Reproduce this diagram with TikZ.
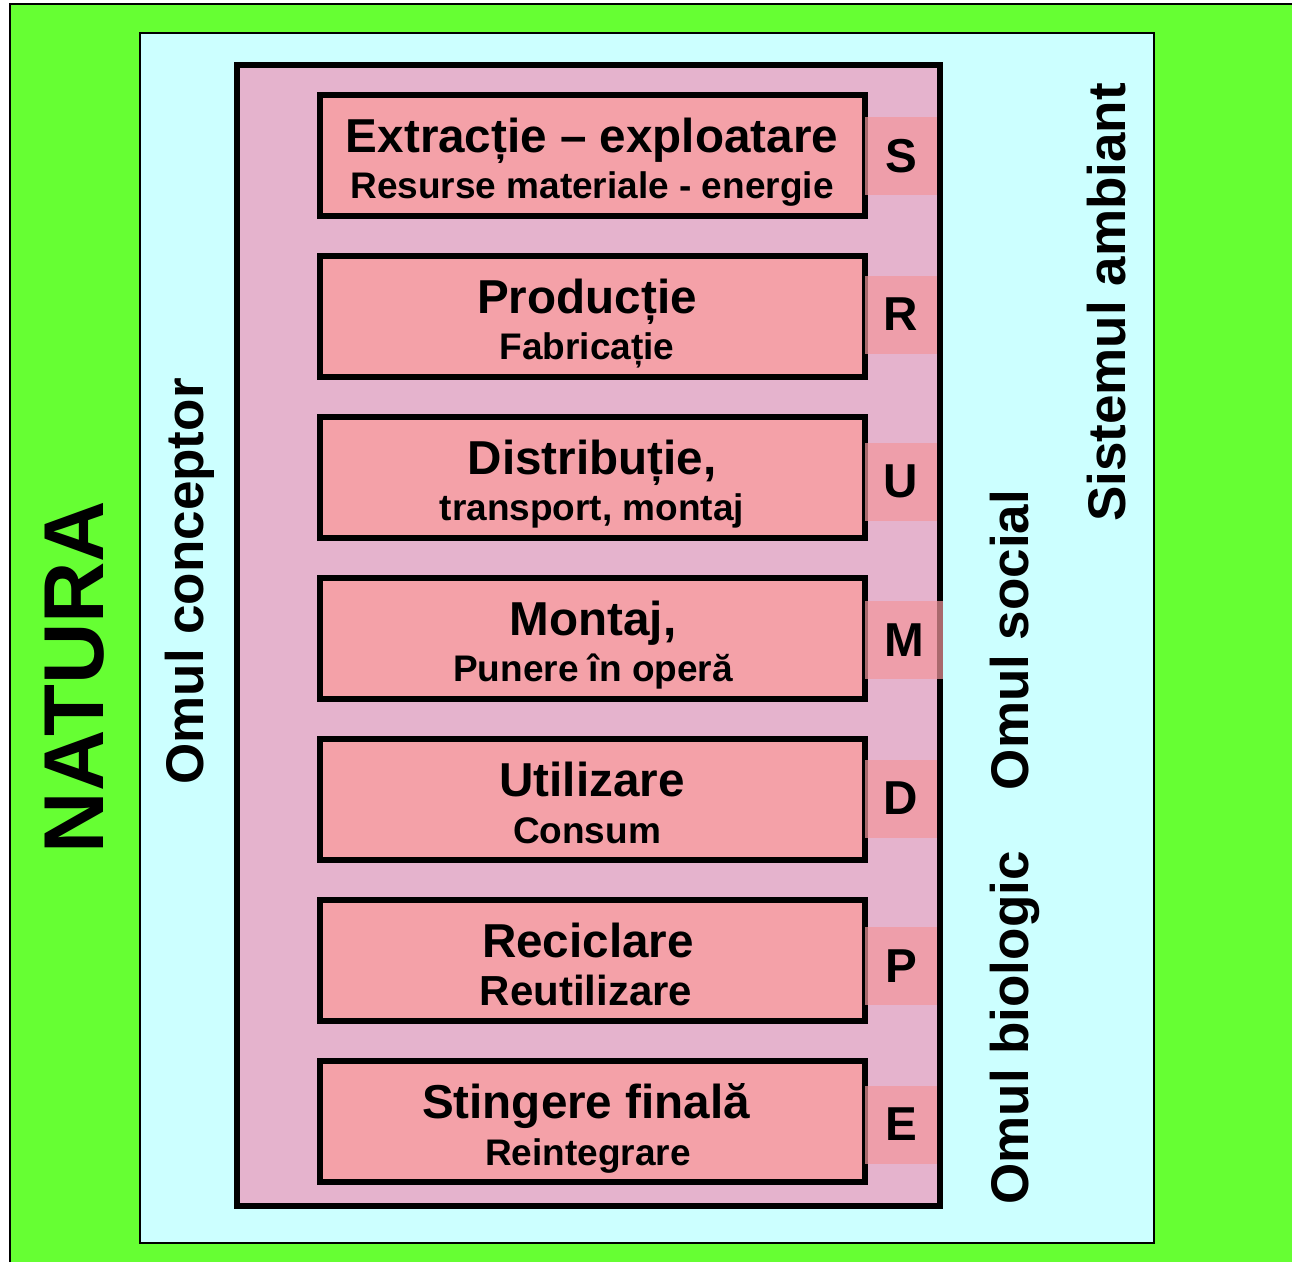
\documentclass[tikz,border=0pt]{standalone}
\usepackage{fontspec}
\setmainfont{Liberation Sans}
\definecolor{natgreen}{HTML}{66FF33}
\definecolor{ambcyan}{HTML}{CCFFFF}
\definecolor{contpink}{HTML}{E5B3CD}
\definecolor{boxpink}{HTML}{F4A1A8}
\definecolor{sqpink}{RGB}{242,150,156}
\tikzset{
  stagebox/.style={draw=black, line width=6pt, fill=boxpink, minimum width=545pt, minimum height=121pt, inner sep=0pt, outer sep=0pt, anchor=north west},
  lettersq/.style={fill=sqpink, fill opacity=0.7, text opacity=1, inner sep=0pt, outer sep=0pt, minimum height=78pt, font=\fontsize{47.6}{50}\selectfont\bfseries},
  ttl/.style={anchor=base, inner sep=0pt, font=\fontsize{47.6}{50}\selectfont\bfseries},
  sub/.style={anchor=base, inner sep=0pt, font=\fontsize{37}{40}\selectfont\bfseries},
  side/.style={rotate=90, anchor=base, inner sep=0pt, font=\fontsize{53}{56}\selectfont\bfseries}
}
\begin{document}
\begin{tikzpicture}[x=1pt, y=-1pt]
\path[use as bounding box, fill=white] (0,0) rectangle (1292,1262);
% NATURA background
\fill[natgreen] (10,4) rectangle (1292,1262);
\draw[line width=2pt] (10,1262) -- (10,4) -- (1292,4);
% ambient system
\draw[fill=ambcyan, line width=1.8pt] (140,33) rectangle (1154,1243);
% container
\draw[fill=contpink, line width=6pt] (237,64.5) rectangle (940,1206);
% stage boxes
\foreach \i/\t in {1/95,2/256,3/417,4/578,5/739,6/900,7/1061}{
  \node[stagebox] (b\i) at (320,\t) {};
}
% titles and subtitles
\node[ttl] (t1) at (592,152) {Extracție – exploatare};
\node[sub] (s1) at (592,198) {Resurse materiale - energie};
\node[ttl] (t2) at (587,313) {Producție};
\node[sub] (s2) at (587,359) {Fabricație};
\node[ttl] (t3) at (592,474) {Distribuție,};
\node[sub] (s3) at (592,520) {transport, montaj};
\node[ttl] (t4) at (593,635) {Montaj,};
\node[sub] (s4) at (593,681) {Punere în operă};
\node[ttl] (t5) at (592,796) {Utilizare};
\node[sub] (s5) at (587,843) {Consum};
\node[ttl] (t6) at (588,957) {Reciclare};
\node[sub, font=\fontsize{42}{45}\selectfont\bfseries] (s6) at (586,1005) {Reutilizare};
\node[ttl] (t7) at (586,1118) {Stingere finală};
\node[sub] (s7) at (588,1165) {Reintegrare};
% letter squares
\node[lettersq, minimum width=72pt] (qS) at (901,156) {S};
\node[lettersq, minimum width=72pt] (qR) at (901,314.5) {R};
\node[lettersq, minimum width=72pt] (qU) at (901,481.5) {U};
\node[lettersq, minimum width=78pt] (qM) at (904,640) {M};
\node[lettersq, minimum width=72pt] (qD) at (901,798.5) {D};
\node[lettersq, minimum width=72pt] (qP) at (901,966) {P};
\node[lettersq, minimum width=72pt] (qE) at (901,1124.5) {E};
% side labels
\node[side, font=\fontsize{85}{90}\selectfont\bfseries] (natura) at (103,677) {NATURA};
\node[side] (conceptor) at (203,581.5) {Omul conceptor};
\node[side] (ambiant) at (1125,302.5) {Sistemul ambiant};
\node[side] (social) at (1028,640) {Omul social};
\node[side] (biologic) at (1028,1028) {Omul biologic};
\end{tikzpicture}
\end{document}
